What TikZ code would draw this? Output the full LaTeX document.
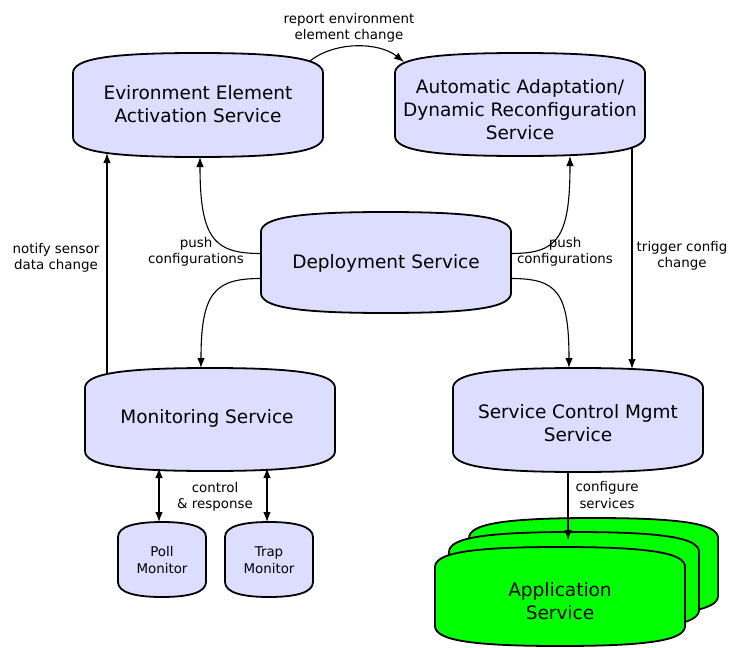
\documentclass[tikz,border=0pt]{standalone}
\usepackage{fontspec}
\setmainfont{DejaVu Sans}
\usetikzlibrary{arrows.meta}
\definecolor{boxfill}{RGB}{221,221,255}
\definecolor{appgreen}{RGB}{0,255,0}
\tikzset{
 boxline/.style={draw=black, line width=1.8pt, line join=round},
 boxtext/.style={align=center, font=\fontsize{18.5}{23}\selectfont, inner sep=0pt},
 lbl/.style={align=center, font=\fontsize{13.4}{16.5}\selectfont, inner sep=0pt},
 conn/.style={line width=1.1pt, -{Latex[length=10pt,width=7.5pt]}},
 dconn/.style={line width=1.1pt, {Latex[length=10pt,width=7.5pt]}-{Latex[length=10pt,width=7.5pt]}},
}
\newcommand\svc[8]{%
 \pgfmathsetmacro\svXm{(#2+#4)/2}%
 \pgfmathsetmacro\svYm{(#3+#5)/2}%
 \pgfmathsetmacro\svW{#4-#2}%
 \pgfmathsetmacro\svH{#5-#3}%
 \pgfmathsetmacro\svTa{#3+#6}%
 \pgfmathsetmacro\svTb{#5-#6}%
 \pgfmathsetmacro\svCa{#3+0.3*#6}%
 \pgfmathsetmacro\svCb{#5-0.3*#6}%
 \pgfmathsetmacro\svPa{#2+#7}%
 \pgfmathsetmacro\svPb{#4-#7}%
 \path[boxline, fill=#8] (#2,\svTa) .. controls (#2,\svCa) and (\svPa,#3) .. (\svXm,#3) .. controls (\svPb,#3) and (#4,\svCa) .. (#4,\svTa) -- (#4,\svTb) .. controls (#4,\svCb) and (\svPb,#5) .. (\svXm,#5) .. controls (\svPa,#5) and (#2,\svCb) .. (#2,\svTb) -- cycle;
 \node[inner sep=0pt, outer sep=0pt, minimum width=\svW pt, minimum height=\svH pt] (#1) at (\svXm,\svYm) {};
}
\begin{document}
\begin{tikzpicture}[x=1pt, y=-1pt]
\path[use as bounding box] (0,0) rectangle (732,648);

% boxes
\svc{eeas}{73}{53}{323}{157}{20}{35}{boxfill}
\svc{aadrs}{395}{53}{645}{156}{20}{35}{boxfill}
\svc{dep}{261}{212}{511}{313}{20}{35}{boxfill}
\svc{mon}{85}{368}{335}{471}{20}{35}{boxfill}
\svc{scm}{453}{368}{703}{472}{20}{35}{boxfill}
\svc{poll}{118}{522}{206}{597}{15}{17}{boxfill}
\svc{trap}{225}{522}{313}{597}{15}{17}{boxfill}
\svc{appc}{469}{518}{718}{616}{20}{35}{appgreen}
\svc{appb}{449}{532}{699}{630}{20}{35}{appgreen}
\svc{app}{435}{547}{685}{646}{20}{35}{appgreen}

% box texts
\node[boxtext] (eeas-t) at (198,104) {Evironment Element\\Activation Service};
\node[boxtext] (aadrs-t) at (520,110) {Automatic Adaptation/\\Dynamic Reconfiguration\\Service};
\node[boxtext] (dep-t) at (386,263) {Deployment Service};
\node[boxtext] (mon-t) at (207,418) {Monitoring Service};
\node[boxtext] (scm-t) at (578,423) {Service Control Mgmt\\Service};
\node[boxtext] (app-t) at (560,601) {Application\\Service};
\node[lbl] (poll-t) at (162,560) {Poll\\Monitor};
\node[lbl] (trap-t) at (269,560) {Trap\\Monitor};

% labels
\node[lbl] (l-report) at (349,28) {report environment\\element change};
\node[lbl] (l-push1) at (196,252) {push\\configurations};
\node[lbl] (l-push2) at (565,252) {push\\configurations};
\node[lbl] (l-notify) at (56,258) {notify sensor\\data change};
\node[lbl] (l-trigger) at (682,256) {trigger config\\change};
\node[lbl] (l-ctrl) at (215,497) {control\\\& response};
\node[lbl] (l-conf) at (607,495) {configure\\services};

% connectors
\draw[conn] ([xshift=-13pt,yshift=-8pt]eeas.north east) .. controls +(25,-20) and +(-25,-20) .. ([xshift=9pt,yshift=-9pt]aadrs.north west);
\draw[conn] ([yshift=9pt]dep.west) .. controls +(-46,0) and +(0,83) .. ([xshift=2pt]eeas.south);
\draw[conn] ([yshift=-16pt]dep.west) .. controls +(-46,0) and +(0,-76) .. ([xshift=-9pt]mon.north);
\draw[conn] ([yshift=9pt]dep.east) .. controls +(46,0) and +(0,83) .. ([xshift=50pt]aadrs.south);
\draw[conn] ([yshift=-16pt]dep.east) .. controls +(46,0) and +(0,-76) .. ([xshift=-9pt]scm.north);
\draw[conn] ([xshift=22pt,yshift=-7pt]mon.north west) -- ([xshift=34pt,yshift=4pt]eeas.south west);
\draw[conn] ([xshift=-13pt,yshift=8pt]aadrs.south east) -- ([xshift=-71pt,yshift=-1pt]scm.north east);
\draw[dconn] ([xshift=-51pt,yshift=3pt]mon.south) -- ([xshift=-3pt]poll.north);
\draw[dconn] ([xshift=57pt,yshift=3pt]mon.south) -- ([xshift=-2pt]trap.north);
\draw[conn] ([xshift=-10pt]scm.south) -- ([xshift=8pt,yshift=7pt]app.north);
\end{tikzpicture}
\end{document}
